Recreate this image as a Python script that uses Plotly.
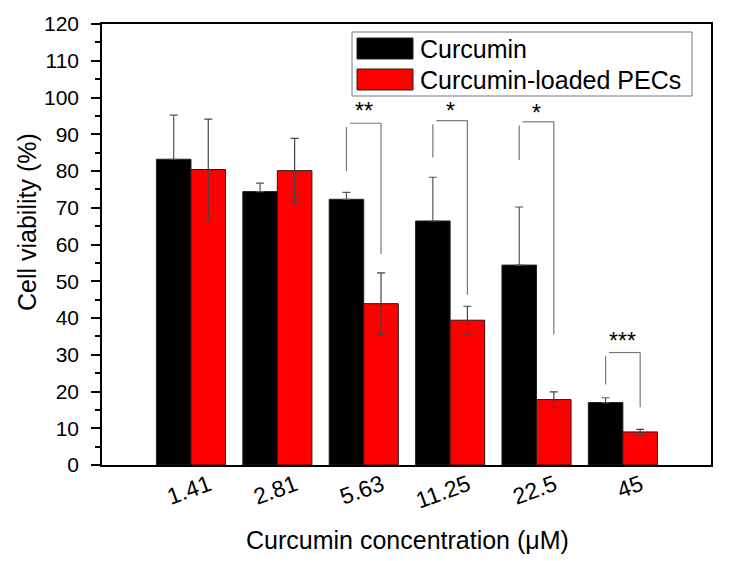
import plotly.graph_objects as go

categories = ["1.41", "2.81", "5.63", "11.25", "22.5", "45"]
curcumin = [83.2, 74.4, 72.3, 66.4, 54.4, 17.0]
curcumin_err = [12.0, 2.3, 1.9, 11.9, 15.8, 1.3]
pecs = [80.4, 80.1, 43.9, 39.4, 17.8, 9.0]
pecs_err = [13.7, 8.8, 8.4, 3.8, 2.1, 0.7]

# significance brackets: group index, bracket top, left leg bottom, right leg bottom, label, label y
sig_groups = [2, 3, 4, 5]
sig_top = [93.0, 93.7, 93.4, 30.6]
sig_left_bottom = [80.0, 83.7, 83.0, 21.9]
sig_right_bottom = [57.4, 46.3, 35.5, 15.7]
sig_labels = ["**", "*", "*", "***"]
sig_label_y = [96.3, 96.3, 95.8, 33.8]

x_idx = list(range(len(categories)))
off = 0.2
bw = 0.4
FONT = "Arial, Liberation Sans, sans-serif"

# plot area in pixels
L, R, T, B = 102, 711, 24, 465
W, H = 729, 561
pw, ph = R - L, B - T


def px(xp):
    return (xp - L) / pw


def py(yp):
    return 1 - (yp - T) / ph


fig = go.Figure()
fig.add_trace(go.Bar(
    x=[i - off for i in x_idx], y=curcumin, width=bw, name="Curcumin",
    marker=dict(color="#000000", line=dict(color="#222222", width=1)),
    error_y=dict(type="data", array=curcumin_err, arrayminus=[0] * len(curcumin_err), symmetric=False,
                 color="#555555", thickness=1.2, width=4),
    showlegend=False,
))
fig.add_trace(go.Bar(
    x=[i + off for i in x_idx], y=pecs, width=bw, name="Curcumin-loaded PECs",
    marker=dict(color="#ff0000", line=dict(color="#331111", width=1)),
    error_y=dict(type="data", array=pecs_err, symmetric=True, color="#444444", thickness=1.2, width=4),
    showlegend=False,
))

shapes = []
annotations = []
for g, top, lb, rb, lab, ly in zip(sig_groups, sig_top, sig_left_bottom, sig_right_bottom, sig_labels, sig_label_y):
    xl = g - off
    xr = g + off
    lc = dict(color="#777777", width=1.2)
    shapes.append(dict(type="line", xref="x", yref="y", x0=xl, x1=xl, y0=lb, y1=top - 1.0, line=lc))
    shapes.append(dict(type="line", xref="x", yref="y", x0=xl + 0.04, x1=xr, y0=top, y1=top, line=lc))
    shapes.append(dict(type="line", xref="x", yref="y", x0=xr, x1=xr, y0=top, y1=rb, line=lc))
    annotations.append(dict(x=g, y=ly, xref="x", yref="y", text=lab, showarrow=False,
                            font=dict(family=FONT, size=23, color="#000"), yanchor="middle"))

# manual legend (paper coords)
leg_items = [("Curcumin", "#000000", 48.5), ("Curcumin-loaded PECs", "#ff0000", 79.5)]
shapes.append(dict(type="rect", xref="paper", yref="paper", x0=px(352), x1=px(692), y0=py(96), y1=py(32),
                   line=dict(color="#777777", width=1), fillcolor="white", layer="above"))
for nm, col, yc in leg_items:
    shapes.append(dict(type="rect", xref="paper", yref="paper", x0=px(357), x1=px(413),
                       y0=py(yc + 10.5), y1=py(yc - 10.5),
                       line=dict(color="#222222", width=1), fillcolor=col, layer="above"))
    annotations.append(dict(x=px(418), y=py(yc), xref="paper", yref="paper", text=nm, showarrow=False,
                            xanchor="left", yanchor="middle", font=dict(family=FONT, size=25, color="#000")))

# axis titles as annotations
annotations.append(dict(x=px(27), y=py(222), xref="paper", yref="paper", text="Cell viability (%)",
                        showarrow=False, textangle=-90, xanchor="center", yanchor="middle",
                        font=dict(family=FONT, size=25, color="#000")))
annotations.append(dict(x=px(407), y=py(540), xref="paper", yref="paper", text="Curcumin concentration (μM)",
                        showarrow=False, xanchor="center", yanchor="middle",
                        font=dict(family=FONT, size=25, color="#000")))

fig.update_layout(
    width=W, height=H,
    margin=dict(l=L, r=W - R, t=T, b=H - B, autoexpand=False),
    paper_bgcolor="white", plot_bgcolor="white",
    barmode="overlay",
    shapes=shapes, annotations=annotations,
    font=dict(family=FONT, size=20, color="#000"),
    xaxis=dict(
        range=[-1.03, 6.02], tickmode="array", tickvals=x_idx, ticktext=categories,
        tickangle=-20, showgrid=False, zeroline=False, automargin=False,
        showline=True, linecolor="#000", linewidth=1.5, mirror=True, ticks="",
        tickfont=dict(family=FONT, size=23), ticklabelshift=18, ticklabelstandoff=-4,
    ),
    yaxis=dict(
        range=[0, 120], tickmode="linear", tick0=0, dtick=10, showgrid=False, zeroline=False,
        automargin=False,
        showline=True, linecolor="#000", linewidth=1.5, mirror=True,
        ticks="outside", ticklen=9, tickwidth=1.5, tickcolor="#000",
        minor=dict(dtick=5, ticks="outside", ticklen=5, tickwidth=1.5, tickcolor="#000"),
        tickfont=dict(family=FONT, size=21), ticklabelstandoff=8,
    ),
)

fig.write_html("out.html", config={"displayModeBar": False},
               post_script="document.body.style.margin='0';document.body.style.padding='0';")
